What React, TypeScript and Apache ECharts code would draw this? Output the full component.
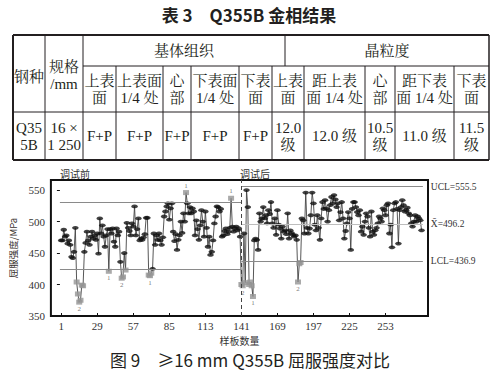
import React, { useEffect, useRef } from 'react';
import * as echarts from 'echarts';

// ---------- data ----------
const beforeValues = [
  470, 470, 487, 476, 478, 465, 470, 463, 444, 442, 452,
  490,
  404, 385, 372, 375, 399, 398,
  452, 466, 484, 470, 463, 476, 484, 473, 478, 471, 481, 449, 505, 481, 494, 476, 460, 478, 488,
  421,
  488, 481, 489, 468, 460, 489, 478, 484, 436, 410, 412, 450, 423,
  498, 490, 485, 478, 497, 492, 524, 478, 488, 505, 470, 473, 471, 475, 480, 506,
  506,
  415, 414, 418, 425,
  481, 463, 478, 471, 481, 470, 463, 475,
  508, 516, 524, 529, 503, 521, 529, 484, 469, 480, 455, 471, 478, 500, 482, 513, 500,
  546, 529, 513, 523, 513, 521, 516, 478, 502, 488, 471, 494, 518, 500, 476, 516, 490, 460, 476, 447,
  452, 470, 497, 508, 524, 523, 516, 520, 476, 478, 485, 489, 480, 484, 490, 537, 492, 484, 489, 492,
  486, 489, 476,
];
const afterValues = [
  400, 398, 481, 403, 550, 523, 400, 404, 398, 381,
  470, 473, 471, 455, 513, 500, 505, 523, 505, 510,
  497, 518, 512, 531, 497, 490, 505, 479, 518, 495,
  489, 473, 492, 484, 486, 480, 513, 473, 486, 482,
  479, 476, 478, 471, 404, 433, 435, 505, 502, 481,
  546, 490, 481, 489, 510, 546, 529, 495, 486, 510,
  490, 471, 505, 531, 520, 534, 521, 500, 518, 526,
  539, 529, 542, 535, 523, 529, 502, 515, 531, 505,
  473, 485, 497, 515, 505, 455, 520, 531, 531, 523,
  515, 510, 518, 484, 492, 479, 500, 513, 508, 490,
  476, 516, 484, 479, 486, 490, 497, 508, 505, 500,
  521, 518, 510, 526, 529, 481, 495, 459, 518, 529,
  531, 520, 465, 518, 523, 534, 526, 516, 518, 522,
  513, 510, 497, 492, 500, 510, 500, 508, 505, 502,
  486,
];
const xTickLabels = [1, 29, 57, 85, 113, 141, 169, 197, 225, 253];
const yTickLabels = [350, 400, 450, 500, 550];
const phaseStart = 141;
const beforeUCL = 530.5;
const beforeLCL = 424.0;
const afterUCL = 555.5;
const afterCL = 496.2;
const afterLCL = 436.9;
const limitNames = ['UCL=555.5', 'X\u0304=496.2', 'LCL=436.9'];
const flagIndices = [15, 38, 48, 70, 98, 133, 142, 150, 185];
const flagTexts = ['2', '1', '2', '1', '1', '1', '2', '1', '2'];
const phaseNames = ['调试前', '调试后'];
const yAxisName = '屈服强度/MPa';
const xAxisName = '样板数量';
const caption = '图 9　≥16 mm Q355B 屈服强度对比';

const tableTitle = '表 3　Q355B 金相结果';
const headerLeft = ['钢种', '规格\n/mm'];
const headerGroups = ['基体组织', '晶粒度'];
const subHeaders = [
  '上表\n面', '上表面\n1/4 处', '心\n部', '下表面\n1/4 处', '下表\n面',
  '上表\n面', '距上表\n面 1/4 处', '心\n部', '距下表\n面 1/4 处', '下表\n面',
];
const rowValues = [
  'Q35\n5B', '16 ×\n1 250', 'F+P', 'F+P', 'F+P', 'F+P', 'F+P',
  '12.0\n级', '12.0 级', '10.5\n级', '11.0 级', '11.5\n级',
];

// ---------- layout ----------
const colX = [13, 45, 83, 116, 163, 191, 239, 272, 304, 365, 395, 454, 489];
const rowY = [35, 66, 112, 160];
const groupSplitX = 285;
const INK = '#231f20';
const serif = "'Liberation Serif', 'Noto Serif CJK SC', 'Noto Sans CJK SC', serif";
const cjk = "'Noto Sans CJK SC', sans-serif";

function buildTableGraphics(): any[] {
  const g: any[] = [];
  const line = (x1: number, y1: number, x2: number, y2: number, w: number) =>
    g.push({ type: 'line', shape: { x1, y1, x2, y2 }, style: { stroke: INK, lineWidth: w }, silent: true });
  const L = colX[0], R = colX[colX.length - 1];
  line(L, rowY[0], R, rowY[0], 2);
  line(L, rowY[3], R, rowY[3], 2);
  line(L, rowY[0], L, rowY[3], 2);
  line(R, rowY[0], R, rowY[3], 1.5);
  line(colX[2], rowY[1], R, rowY[1], 1);
  line(L, rowY[2], R, rowY[2], 1);
  line(colX[1], rowY[0], colX[1], rowY[3], 1);
  line(colX[2], rowY[0], colX[2], rowY[3], 1);
  for (let k = 3; k < colX.length - 1; k++) line(colX[k], rowY[1], colX[k], rowY[3], 1);
  line(groupSplitX, rowY[0], groupSplitX, rowY[1], 1);

  const text = (t: string, x: number, y: number, size: number, family: string, weight = 'normal') =>
    g.push({
      type: 'text', silent: true,
      style: { text: t, x, y, fontSize: size, fontFamily: family, fontWeight: weight, fill: INK,
        align: 'center', verticalAlign: 'middle', lineHeight: 17 },
    });
  text(tableTitle, 249, 14, 17, cjk, 'bold');
  text(headerLeft[0], (colX[0] + colX[1]) / 2, 77, 15, serif);
  text(headerLeft[1], (colX[1] + colX[2]) / 2, 75, 15, serif);
  text(headerGroups[0], (colX[2] + groupSplitX) / 2, 51, 15, serif);
  text(headerGroups[1], (groupSplitX + R) / 2, 51, 15, serif);
  subHeaders.forEach((t, k) => text(t, (colX[k + 2] + colX[k + 3]) / 2, (rowY[1] + rowY[2]) / 2, 15, serif));
  rowValues.forEach((t, k) => text(t, (colX[k] + colX[k + 1]) / 2, (rowY[2] + rowY[3]) / 2, 15, serif));
  return g;
}

export default function App() {
  const ref = useRef<HTMLDivElement>(null);
  useEffect(() => {
    document.body.style.margin = '0';
    const chart = echarts.init(ref.current!, null, { renderer: 'svg' });
    const allValues = [...beforeValues, ...afterValues];
    const lastIdx = allValues.length;
    const pts = allValues.map((v, k) => [k + 1, v]);
    const isOut = (i: number, v: number) =>
      i < phaseStart ? v > beforeUCL || v < beforeLCL : v > afterUCL || v < afterLCL;
    const normal = pts.filter((p) => !isOut(p[0], p[1]));
    const outs = pts
      .filter((p) => isOut(p[0], p[1]))
      .map((p) => {
        const fi = flagIndices.indexOf(p[0]);
        if (fi < 0) return { value: p };
        const high = p[1] > 500;
        return {
          value: p,
          label: { show: true, formatter: flagTexts[fi], position: high ? 'top' : 'bottom', distance: 1,
            fontSize: 7, fontFamily: serif, color: '#555' },
        };
      });

    const limLine = (x1: number, x2: number, y: number) => [{ coord: [x1, y] }, { coord: [x2, y] }];
    const lab = (t: string) => ({
      show: true, position: 'end', formatter: t, distance: 8, fontSize: 9.5, fontFamily: serif, color: '#333',
    });

    const option: any = {
      animation: false,
      backgroundColor: '#fff',
      grid: { left: 48, right: 69, top: 180, bottom: 57, show: true, borderColor: '#111', borderWidth: 2 },
      xAxis: {
        type: 'value', min: -7, max: 286,
        name: xAxisName, nameLocation: 'middle', nameGap: 19,
        nameTextStyle: { fontSize: 10, fontFamily: cjk, color: '#333' },
        axisLine: { show: false },
        splitLine: { show: false },
        axisTick: { show: true, inside: true, length: 3, customValues: xTickLabels, lineStyle: { color: '#111' } },
        axisLabel: { customValues: xTickLabels, fontSize: 11, fontFamily: serif, color: '#333', margin: 4 },
      },
      yAxis: {
        type: 'value', min: 350, max: 566,
        name: yAxisName, nameLocation: 'middle', nameGap: 24, nameRotate: 90,
        nameTextStyle: { fontSize: 9.5, fontFamily: cjk, color: '#3a3330' },
        axisLine: { show: false },
        splitLine: { show: false },
        axisTick: { show: true, inside: false, length: 3, customValues: yTickLabels, lineStyle: { color: '#111' } },
        axisLabel: { customValues: yTickLabels, fontSize: 11, fontFamily: serif, color: '#333', margin: 6 },
      },
      graphic: [
        ...buildTableGraphics(),
        { type: 'text', silent: true, style: { text: phaseNames[0], x: 75, y: 173, fontSize: 10, fontFamily: cjk, fill: '#333', align: 'center', verticalAlign: 'middle' } },
        { type: 'text', silent: true, style: { text: phaseNames[1], x: 255, y: 173, fontSize: 10, fontFamily: cjk, fill: '#333', align: 'center', verticalAlign: 'middle' } },
        { type: 'text', silent: true, style: { text: caption, x: 250, y: 359, fontSize: 17, fontFamily: cjk, fill: INK, align: 'center', verticalAlign: 'middle' } },
      ],
      series: [
        {
          type: 'line', data: pts, showSymbol: false, symbol: 'none', z: 2,
          lineStyle: { color: '#444', width: 0.9 },
          markLine: {
            silent: true, symbol: ['none', 'none'], animation: false,
            lineStyle: { color: '#8a8a8a', width: 1, type: 'solid' },
            label: { show: false },
            data: [
              limLine(0, phaseStart, beforeUCL),
              limLine(0, phaseStart, beforeLCL),
              [{ coord: [phaseStart, afterUCL], label: lab(limitNames[0]) }, { coord: [lastIdx + 1, afterUCL] }],
              [{ coord: [phaseStart, afterCL], label: lab(limitNames[1]), lineStyle: { color: '#bdbdbd' } }, { coord: [lastIdx + 1, afterCL] }],
              [{ coord: [phaseStart, afterLCL], label: lab(limitNames[2]) }, { coord: [lastIdx + 1, afterLCL] }],
              { xAxis: phaseStart, lineStyle: { color: '#444', type: [4, 3], width: 1 }, label: { show: false } },
            ],
          },
        },
        {
          type: 'scatter', data: normal, symbol: 'circle', symbolSize: [6.5, 3.8], z: 3,
          itemStyle: { color: '#111' },
        },
        {
          type: 'scatter', data: outs, symbol: 'rect', symbolSize: [6, 5], z: 4,
          itemStyle: { color: '#959595' },
        },
      ],
    };
    chart.setOption(option);
    return () => chart.dispose();
  }, []);
  return <div ref={ref} style={{ width: 497, height: 373, background: '#fff' }} />;
}
